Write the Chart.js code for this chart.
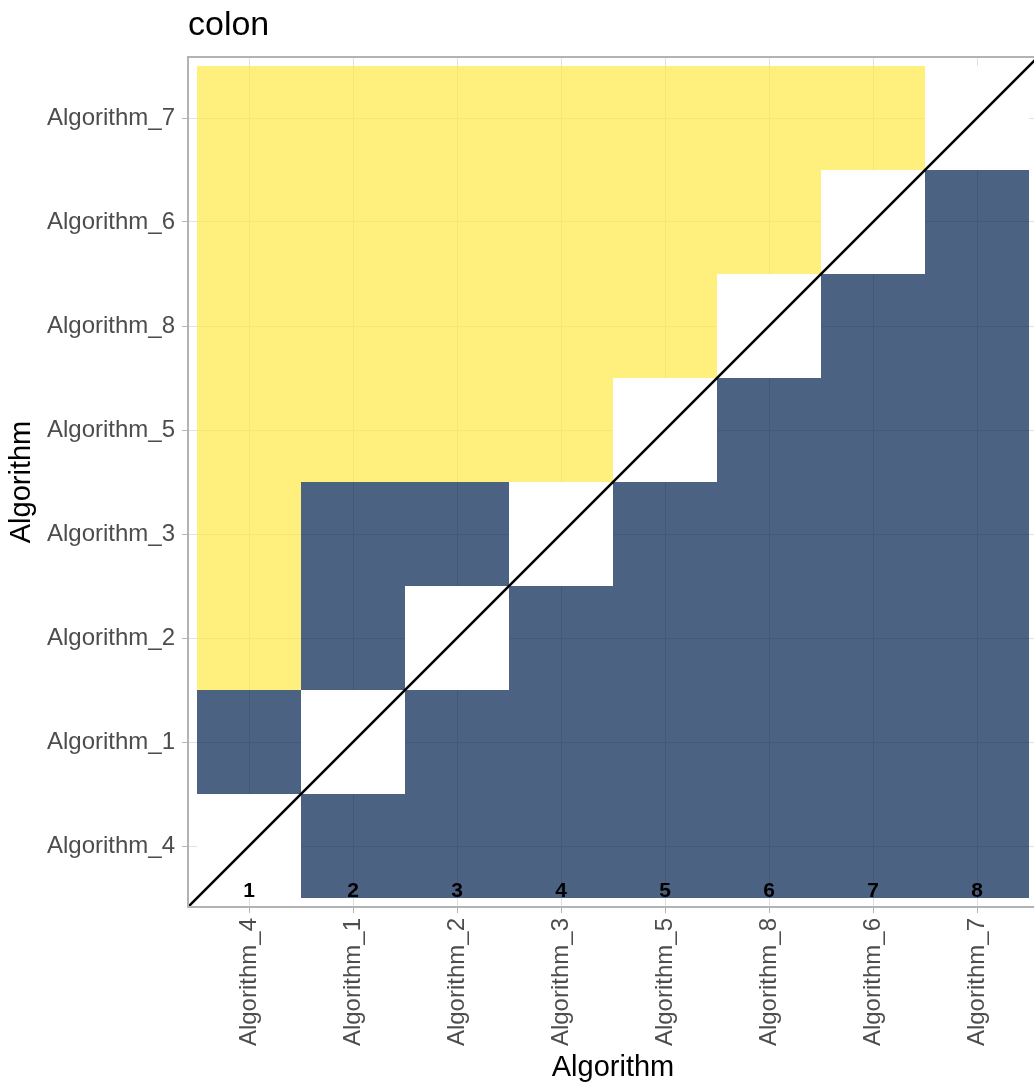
<!DOCTYPE html>
<html>
<head>
<meta charset="utf-8">
<title>colon</title>
<script src="https://cdn.jsdelivr.net/npm/chart.js@4.4.1/dist/chart.umd.min.js"></script>
<style>
  html, body { margin: 0; padding: 0; background: #fff; overflow: hidden; }
  #wrap { width: 1034px; height: 1086px; overflow: hidden; }
</style>
</head>
<body>
<div id="wrap"><canvas id="heatmap" width="1044" height="1086"></canvas></div>
<script>
// axis order, left to right and bottom to top
const algorithms = ["Algorithm_4", "Algorithm_1", "Algorithm_2", "Algorithm_3", "Algorithm_5", "Algorithm_8", "Algorithm_6", "Algorithm_7"];
const ranks = ["1", "2", "3", "4", "5", "6", "7", "8"];

// one row per algorithm (bottom row first), one entry per column
// Y = yellow tile, B = blue tile, - = same algorithm
const outcomes = [
  ["-", "B", "B", "B", "B", "B", "B", "B"],
  ["B", "-", "B", "B", "B", "B", "B", "B"],
  ["Y", "B", "-", "B", "B", "B", "B", "B"],
  ["Y", "B", "B", "-", "B", "B", "B", "B"],
  ["Y", "Y", "Y", "Y", "-", "B", "B", "B"],
  ["Y", "Y", "Y", "Y", "Y", "-", "B", "B"],
  ["Y", "Y", "Y", "Y", "Y", "Y", "-", "B"],
  ["Y", "Y", "Y", "Y", "Y", "Y", "Y", "-"],
];

const tileColors = { Y: "rgba(255,234,70,0.7)", B: "rgba(0,32,77,0.7)", "-": "#ffffff" };
const pad = 9 / 104;
const lo = -0.5 - pad;
const hi = algorithms.length - 0.5 + pad;
const rankY = -0.43;

Chart.defaults.font.family = "'Liberation Sans', Arial, sans-serif";

const tileSets = algorithms.map((rowName, r) => ({
  type: "bar",
  label: rowName,
  data: algorithms.map((colName, c) => ({ x: c, y: [r - 0.5, r + 0.5] })),
  backgroundColor: outcomes[r].map((k) => tileColors[k]),
  borderWidth: 0,
  borderSkipped: false,
  inflateAmount: 0,
  grouped: false,
  barPercentage: 1,
  categoryPercentage: 1,
  order: 2,
}));

const diagonal = {
  type: "line",
  label: "diagonal",
  data: [{ x: lo, y: lo }, { x: hi, y: hi }],
  borderColor: "#000000",
  borderWidth: 2.5,
  pointRadius: 0,
  order: 1,
};

const panelPlugin = {
  id: "panel",
  afterDatasetsDraw(chart) {
    const { ctx, chartArea: a, scales } = chart;
    ctx.save();
    ctx.font = "bold 21px 'Liberation Sans', Arial, sans-serif";
    ctx.fillStyle = "#000000";
    ctx.textAlign = "center";
    ctx.textBaseline = "middle";
    ranks.forEach((t, i) => {
      ctx.fillText(t, scales.x.getPixelForValue(i), scales.y.getPixelForValue(rankY));
    });

    ctx.strokeStyle = "#b3b3b3";
    ctx.lineWidth = 2;
    ctx.strokeRect(a.left, a.top, a.right - a.left, a.bottom - a.top);

    ctx.font = "34px 'Liberation Sans', Arial, sans-serif";
    ctx.textAlign = "left";
    ctx.textBaseline = "alphabetic";
    ctx.fillText("colon", a.left, 35);
    ctx.restore();
  },
};

function integerTicks(scale) {
  scale.ticks = algorithms.map((_, i) => ({ value: i }));
}

const heatmap = document.getElementById("heatmap");
new Chart(heatmap, {
  data: { datasets: [...tileSets, diagonal] },
  plugins: [panelPlugin],
  options: {
    responsive: false,
    animation: false,
    layout: { padding: { top: 57, right: 6, left: 0, bottom: 0 } },
    plugins: { legend: { display: false }, tooltip: { enabled: false } },
    scales: {
      x: {
        type: "linear",
        min: lo,
        max: hi,
        offset: false,
        afterBuildTicks: integerTicks,
        afterFit: (scale) => { scale.height = 179; },
        grid: { offset: false, color: "#e0e0e0", lineWidth: 1, tickColor: "#b3b3b3", tickLength: 6 },
        border: { display: false },
        ticks: {
          autoSkip: false,
          minRotation: 90,
          maxRotation: 90,
          padding: 5,
          color: "#4d4d4d",
          font: { size: 24 },
          callback: (v) => algorithms[v],
        },
        title: { display: true, text: "Algorithm", color: "#000000", font: { size: 29 }, padding: { top: 4, bottom: 1 } },
      },
      y: {
        type: "linear",
        min: lo,
        max: hi,
        offset: false,
        afterBuildTicks: integerTicks,
        afterFit: (scale) => { scale.width = 188; },
        grid: { offset: false, color: "#e0e0e0", lineWidth: 1, tickColor: "#b3b3b3", tickLength: 6 },
        border: { display: false },
        ticks: {
          autoSkip: false,
          padding: 7,
          color: "#4d4d4d",
          font: { size: 24 },
          callback: (v) => algorithms[v],
        },
        title: { display: true, text: "Algorithm", color: "#000000", font: { size: 29 }, padding: { top: 5, bottom: 0 } },
      },
    },
  },
});
</script>
</body>
</html>
